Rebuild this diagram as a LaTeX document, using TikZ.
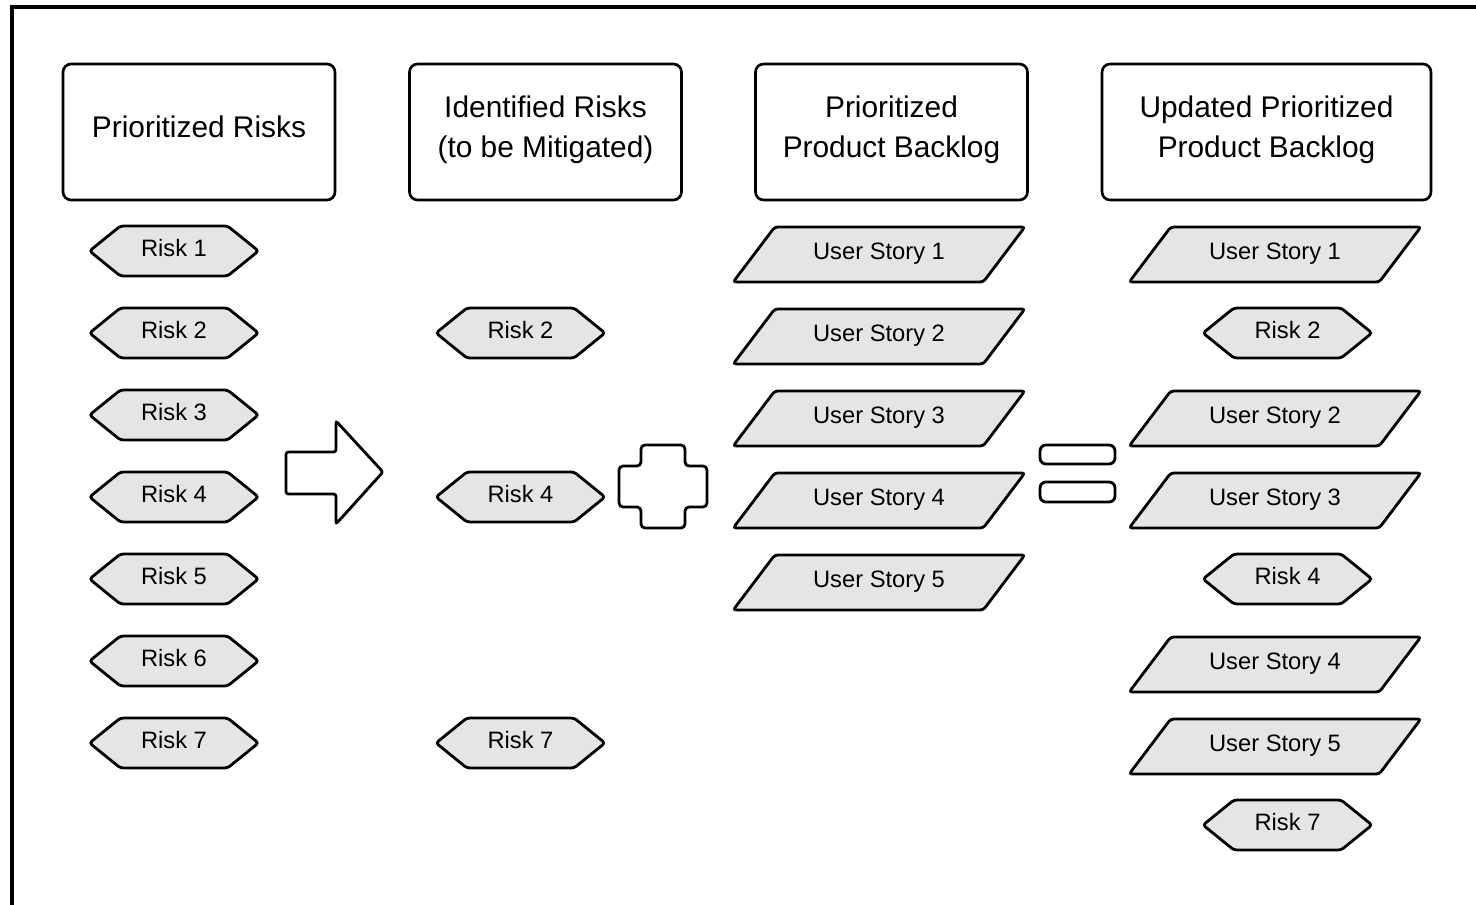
\documentclass[tikz,border=0pt]{standalone}
\usepackage{fontspec}
\setmainfont{Liberation Sans}
\usepackage{xcolor}
\usepackage{tikz}
\usetikzlibrary{shapes.geometric,shapes.symbols}
\definecolor{BoxGray}{HTML}{E5E5E5}

\begin{document}
\begin{tikzpicture}[
		x=0.02cm, y=-0.02cm,
		HeadBox/.style={draw,line width=1.5pt,rounded corners=0.16cm,minimum width=5.44cm,minimum height=2.72cm,align=center,font=\fontsize{17}{23}\selectfont},
		RiskBox/.style={draw,line width=1.6pt,fill=BoxGray,signal,signal to=east and west,signal pointer angle=78,minimum width=3.38cm,minimum height=1cm,inner sep=0pt,text height=0.35cm,text depth=0.12cm,rounded corners=0.06cm,font=\fontsize{13.5}{16}\selectfont},
		StoryBox/.style={draw,line width=1.6pt,fill=BoxGray,trapezium,trapezium left angle=43,trapezium right angle=137,trapezium stretches=true,minimum width=5.84cm,minimum height=1.1cm,inner sep=0pt,text height=0.35cm,text depth=0.14cm,rounded corners=0.06cm,font=\fontsize{13.5}{16}\selectfont},
		Operator/.style={draw,line width=1.6pt,rounded corners=0.08cm}
		]
		\useasboundingbox (0,0) rectangle (1476,905);
		
		% frame
		\draw[line width=2.6pt] (12,905)--(12,7)--(1476,7);
		
		% headers
		\node[HeadBox,text depth=0.2cm] (hRisks) at (199,132) {Prioritized Risks};
		\node[HeadBox,text depth=0.22cm] (hMitig) at (545.5,132) {Identified Risks\\(to be Mitigated)};
		\node[HeadBox,text depth=0.22cm] (hBacklog) at (891.5,132) {Prioritized\\Product Backlog};
		\node[HeadBox,text depth=0.22cm,minimum width=6.58cm] (hUpdated) at (1266.5,132) {Updated Prioritized\\Product Backlog};
		
		% prioritized risks
		\node[RiskBox] (pr1) at (174,251) {Risk 1};
		\node[RiskBox] (pr2) at (174,333) {Risk 2};
		\node[RiskBox] (pr3) at (174,415) {Risk 3};
		\node[RiskBox] (pr4) at (174,497) {Risk 4};
		\node[RiskBox] (pr5) at (174,579) {Risk 5};
		\node[RiskBox] (pr6) at (174,661) {Risk 6};
		\node[RiskBox] (pr7) at (174,743) {Risk 7};
		
		% arrow
		\draw[Operator,rounded corners=0.05cm] (286,452)--(336,452)--(336,421)--(383,472)--(336,524)--(336,494)--(286,494)--cycle;
		
		% identified risks
		\node[RiskBox] (ir2) at (520.5,333) {Risk 2};
		\node[RiskBox] (ir4) at (520.5,497) {Risk 4};
		\node[RiskBox] (ir7) at (520.5,743) {Risk 7};
		
		% plus
		\draw[Operator] (641,445)--(685,445)--(685,466)--(707,466)--(707,507)--(685,507)--(685,528)--(641,528)--(641,507)--(619,507)--(619,466)--(641,466)--cycle;
		
		% backlog
		\node[StoryBox] (us1) at (879,254.5) {User Story 1};
		\node[StoryBox] (us2) at (879,336.5) {User Story 2};
		\node[StoryBox] (us3) at (879,418.5) {User Story 3};
		\node[StoryBox] (us4) at (879,500.5) {User Story 4};
		\node[StoryBox] (us5) at (879,582.5) {User Story 5};
		
		% equals
		\draw[Operator,rounded corners=0.12cm] (1040,445) rectangle (1115,464);
		\draw[Operator,rounded corners=0.12cm] (1040,482) rectangle (1115,502);
		
		% updated backlog
		\node[StoryBox] (uu1) at (1275,254.5) {User Story 1};
		\node[RiskBox] (ur2) at (1287.5,333) {Risk 2};
		\node[StoryBox] (uu2) at (1275,418.5) {User Story 2};
		\node[StoryBox] (uu3) at (1275,500.5) {User Story 3};
		\node[RiskBox] (ur4) at (1287.5,579) {Risk 4};
		\node[StoryBox] (uu4) at (1275,664.5) {User Story 4};
		\node[StoryBox] (uu5) at (1275,746.5) {User Story 5};
		\node[RiskBox] (ur7) at (1287.5,825) {Risk 7};
		
\end{tikzpicture}
\end{document}
